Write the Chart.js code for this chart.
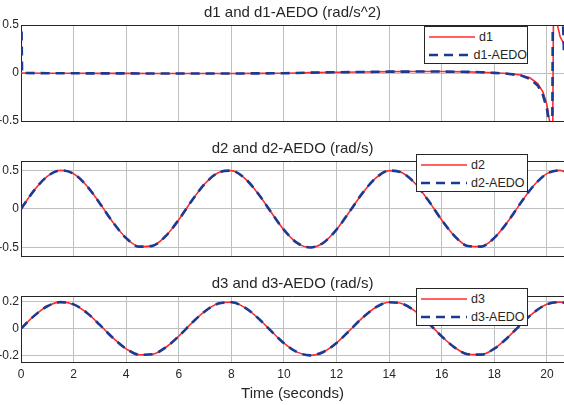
<!DOCTYPE html>
<html>
<head>
<meta charset="utf-8">
<script src="https://cdn.jsdelivr.net/npm/chart.js@4.4.1/dist/chart.umd.min.js"></script>
<style>
  html, body { margin: 0; padding: 0; background: #fff; }
  #wrap { position: relative; width: 564px; height: 405px; overflow: hidden; font-family: 'Liberation Sans', Arial, sans-serif; }
  canvas { position: absolute; left: 0; }
  .legend { position: absolute; background: #fff; border: 1px solid #262626; box-sizing: border-box; font-size: 12.5px; color: #262626; padding-top: 1px; }
  .legend .row { display: flex; align-items: center; height: 18px; padding-left: 4px; white-space: nowrap; }
  .legend svg { margin-right: 4px; }
</style>
</head>
<body>
<div id="wrap">
  <canvas id="c1" width="564" height="132" style="top:0px"></canvas>
  <canvas id="c2" width="564" height="134" style="top:136px"></canvas>
  <canvas id="c3" width="564" height="134" style="top:271px"></canvas>
  <div class="legend" id="l1" style="left:424px;top:26px;width:104px;height:38px"></div>
  <div class="legend" id="l2" style="left:416px;top:154px;width:112px;height:38px"></div>
  <div class="legend" id="l3" style="left:416px;top:288px;width:112px;height:38px"></div>
</div>
<script>
// tick values
const timeTicks = [0, 2, 4, 6, 8, 10, 12, 14, 16, 18, 20];
const d1Ticks = [-0.5, 0, 0.5];
const d2Ticks = [-0.5, 0, 0.5];
const d3Ticks = [-0.2, 0, 0.2];

// d1 (rad/s^2)
const d1Time = [0, 1, 2, 3, 4, 5, 6, 7, 8, 9, 10, 10.5, 11, 12, 13, 14, 15, 16, 17, 17.5, 18, 18.5,
  19, 19.35, 19.65, 19.85, 20, 20.1, 20.2, 20.27, 20.33, 20.4, 20.5, 20.65];
const d1 = [0, -0.002, -0.003, -0.004, -0.004, -0.005, -0.005, -0.005, -0.005, -0.004, -0.003, 0, 0.004,
  0.008, 0.011, 0.014, 0.015, 0.015, 0.012, 0.008, 0.002, -0.006,
  -0.02, -0.05, -0.11, -0.2, -0.33, -0.5, -1.5, 1.5, 0.75, 0.5, 0.38, 0.3];
const d1AedoTime = [0, 0.04, 1, 2, 3, 4, 5, 6, 7, 8, 9, 10, 10.5, 11, 12, 13, 14, 15, 16, 17, 17.5, 18, 18.5,
  19, 19.35, 19.65, 19.85, 20, 20.1, 20.19, 20.24, 20.56, 20.65];
const d1Aedo = [0.9, 0, -0.002, -0.003, -0.004, -0.004, -0.005, -0.005, -0.005, -0.005, -0.004, -0.003, 0, 0.004,
  0.008, 0.011, 0.014, 0.015, 0.015, 0.012, 0.008, 0.001, -0.008,
  -0.025, -0.06, -0.13, -0.23, -0.37, -0.56, -1.5, 1.5, 1.0, 0.2];

// d2 / d3 (rad/s) sampled every 0.5 s off the two lower panels
const sineTime = [0, 0.5, 1, 1.5, 2, 2.5, 3, 3.5, 4, 4.5, 5, 5.5, 6, 6.5, 7, 7.5, 8, 8.5, 9, 9.5,
  10, 10.5, 11, 11.5, 12, 12.5, 13, 13.5, 14, 14.5, 15, 15.5, 16, 16.5, 17, 17.5, 18, 18.5, 19, 19.5,
  20, 20.5, 20.65];
const d2 = [0, 0.240, 0.421, 0.499, 0.455, 0.299, 0.071, -0.175, -0.378, -0.489,
  -0.479, -0.353, -0.140, 0.108, 0.328, 0.469, 0.495, 0.399, 0.206, -0.037,
  -0.272, -0.440, -0.500, -0.438, -0.268, -0.033, 0.210, 0.402, 0.495, 0.467,
  0.325, 0.104, -0.144, -0.356, -0.481, -0.488, -0.375, -0.171, 0.075, 0.302,
  0.456, 0.499, 0.487];
const d2Aedo = d2.slice();  // estimate sits right on top of the signal
const d3 = [0, 0.096, 0.168, 0.199, 0.182, 0.120, 0.028, -0.070, -0.151, -0.196,
  -0.192, -0.141, -0.056, 0.043, 0.131, 0.188, 0.198, 0.160, 0.082, -0.015,
  -0.109, -0.176, -0.200, -0.175, -0.107, -0.013, 0.084, 0.161, 0.198, 0.187,
  0.130, 0.041, -0.058, -0.142, -0.192, -0.195, -0.150, -0.068, 0.030, 0.121,
  0.183, 0.199, 0.195];
const d3Aedo = d3.slice();

const RED = '#ff2b2b';
const BLUE = '#1b3a94';
const INK = '#262626';
const GRID = '#bfbfbf';

Chart.defaults.font.family = "'Liberation Sans', Arial, sans-serif";
Chart.defaults.color = INK;

function pts(xs, ys) {
  return xs.map((x, i) => ({ x: x, y: ys[i] }));
}

// matlab-ish box: line along the top of the axes
const topLine = {
  id: 'topLine',
  afterDraw(chart) {
    const a = chart.chartArea;
    const ctx = chart.ctx;
    const y = Math.round(a.top) + 0.5;
    ctx.save();
    ctx.strokeStyle = INK;
    ctx.lineWidth = 1;
    ctx.beginPath();
    ctx.moveTo(a.left, y);
    ctx.lineTo(a.right, y);
    ctx.stroke();
    ctx.restore();
  }
};

// xSpace = height left under the axes (canvas bottom - axes bottom)
function makePlot(id, title, sig, est, yMin, yMax, yTicks, showTime, xSpace) {
  const xAxis = {
    type: 'linear', min: 0, max: 20.65,
    grid: { color: GRID, drawTicks: false },
    border: { color: INK, width: 1 },
    afterBuildTicks: s => { s.ticks = timeTicks.map(v => ({ value: v })); },
    ticks: { display: showTime, padding: 5, font: { size: 12 }, callback: v => String(v) },
    title: { display: showTime, text: 'Time (seconds)', font: { size: 15 }, padding: { top: 0, bottom: 2 } },
    afterFit: s => { s.height = xSpace; s.paddingLeft = 0; s.paddingRight = 0; }
  };
  return new Chart(document.getElementById(id), {
    type: 'line',
    data: {
      datasets: [
        { label: sig.label, data: sig.data, borderColor: RED, borderWidth: 1.6, order: 2,
          pointRadius: 0, fill: false, cubicInterpolationMode: sig.smooth ? 'monotone' : 'default', tension: 0 },
        { label: est.label, data: est.data, borderColor: BLUE, borderWidth: 2.6, borderDash: [9, 6], order: 1,
          pointRadius: 0, fill: false, cubicInterpolationMode: est.smooth ? 'monotone' : 'default', tension: 0 }
      ]
    },
    options: {
      responsive: false,
      animation: false,
      devicePixelRatio: 1,
      layout: { padding: 0 },
      plugins: {
        legend: { display: false },
        tooltip: { enabled: false },
        title: { display: true, text: title, fullSize: false, color: INK,
          font: { size: 15, weight: 'normal' }, padding: { top: 3.5, bottom: 3.5 } }
      },
      scales: {
        x: xAxis,
        y: {
          type: 'linear', min: yMin, max: yMax,
          grid: { color: GRID, drawTicks: false },
          border: { color: INK, width: 1 },
          afterBuildTicks: s => { s.ticks = yTicks.map(v => ({ value: v })); },
          ticks: { padding: 2, font: { size: 12 }, callback: v => String(v) },
          // fixed gutter, and no extra room for the end labels
          afterFit: s => { s.width = 21; s.paddingTop = 0; s.paddingBottom = 0; }
        }
      }
    },
    plugins: [topLine]
  });
}

function buildLegend(chart, boxId) {
  const box = document.getElementById(boxId);
  chart.data.datasets.forEach(ds => {
    const row = document.createElement('div');
    row.className = 'row';
    const dash = ds.borderDash ? ds.borderDash.join(',') : 'none';
    row.innerHTML = '<svg width="46" height="6"><line x1="0" y1="3" x2="46" y2="3" stroke="' + ds.borderColor +
      '" stroke-width="' + ds.borderWidth + '" stroke-dasharray="' + dash + '"/></svg><span>' + ds.label + '</span>';
    box.appendChild(row);
  });
}

const c1 = makePlot('c1', 'd1 and d1-AEDO (rad/s^2)',
  { label: 'd1', data: pts(d1Time, d1) }, { label: 'd1-AEDO', data: pts(d1AedoTime, d1Aedo) },
  -0.5, 0.5, d1Ticks, false, 11);
const c2 = makePlot('c2', 'd2 and d2-AEDO (rad/s)',
  { label: 'd2', data: pts(sineTime, d2), smooth: true }, { label: 'd2-AEDO', data: pts(sineTime, d2Aedo), smooth: true },
  -0.61, 0.62, d2Ticks, false, 14);
const c3 = makePlot('c3', 'd3 and d3-AEDO (rad/s)',
  { label: 'd3', data: pts(sineTime, d3), smooth: true }, { label: 'd3-AEDO', data: pts(sineTime, d3Aedo), smooth: true },
  -0.25, 0.245, d3Ticks, true, 43);

buildLegend(c1, 'l1');
buildLegend(c2, 'l2');
buildLegend(c3, 'l3');
</script>
</body>
</html>
